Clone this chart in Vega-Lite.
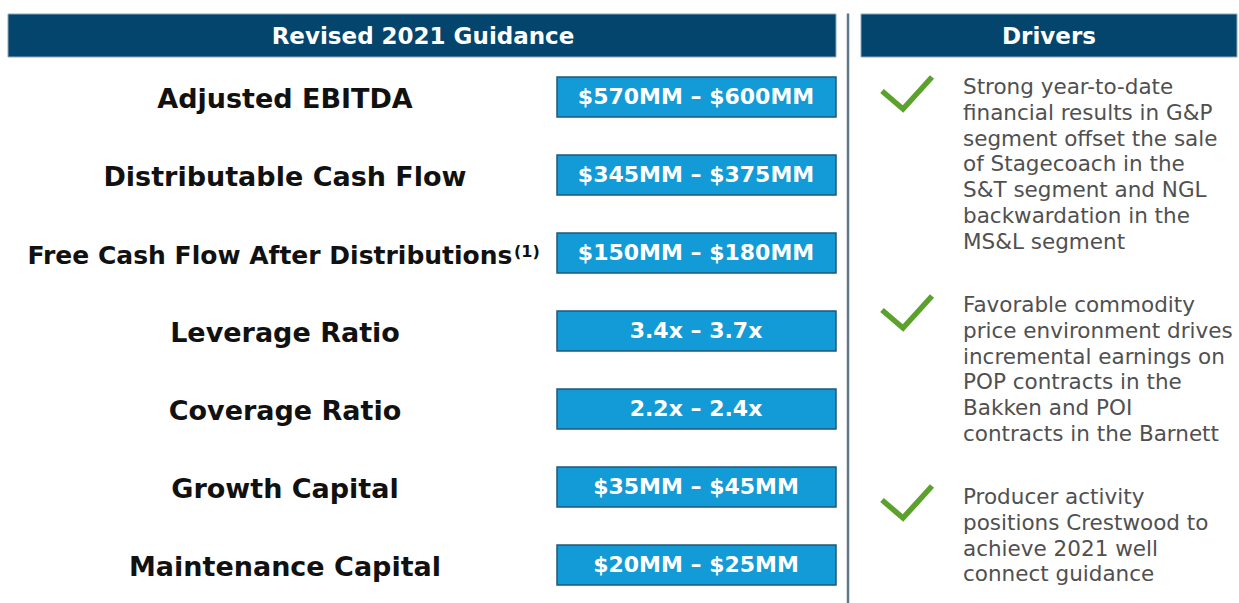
{
  "$schema": "https://vega.github.io/schema/vega-lite/v6.json",
  "width": 1239,
  "height": 603,
  "autosize": {"type": "none"},
  "padding": 0,
  "background": "white",
  "config": {"view": {"stroke": null}, "axis": {"disable": true}, "font": "DejaVu Sans", "scale": {"continuousPadding": 0}},
  "datasets": {
    "guidance": [
      {"order": 1, "metric": "Adjusted EBITDA", "note": "", "range": "$570MM – $600MM"},
      {"order": 2, "metric": "Distributable Cash Flow", "note": "", "range": "$345MM – $375MM"},
      {"order": 3, "metric": "Free Cash Flow After Distributions", "note": "(1)", "range": "$150MM – $180MM"},
      {"order": 4, "metric": "Leverage Ratio", "note": "", "range": "3.4x – 3.7x"},
      {"order": 5, "metric": "Coverage Ratio", "note": "", "range": "2.2x – 2.4x"},
      {"order": 6, "metric": "Growth Capital", "note": "", "range": "$35MM – $45MM"},
      {"order": 7, "metric": "Maintenance Capital", "note": "", "range": "$20MM – $25MM"}
    ],
    "headers": [
      {"id": 1, "title": "Revised 2021 Guidance"},
      {"id": 2, "title": "Drivers"}
    ],
    "drivers": [
      {"id": 1, "text": "Strong year-to-date\nfinancial results in G&P\nsegment offset the sale\nof Stagecoach in the\nS&T segment and NGL\nbackwardation in the\nMS&L segment"},
      {"id": 2, "text": "Favorable commodity\nprice environment drives\nincremental earnings on\nPOP contracts in the\nBakken and POI\ncontracts in the Barnett"},
      {"id": 3, "text": "Producer activity\npositions Crestwood to\nachieve 2021 well\nconnect guidance"}
    ]
  },
  "layer": [
    {
      "data": {"name": "headers"},
      "transform": [{"filter": "datum.id == 1"}],
      "layer": [
        {
          "mark": {"type": "bar", "orient": "horizontal", "height": 43, "color": "#03456d", "stroke": "#8fa9bd", "strokeWidth": 1},
          "encoding": {
            "x": {"datum": 8, "type": "quantitative", "scale": {"domain": [0, 1239], "nice": false, "zero": false, "padding": 0}},
            "x2": {"datum": 836},
            "y": {"datum": 0.2115, "type": "quantitative", "scale": {"domain": [-0.2436, 7.4872], "reverse": true, "nice": false, "zero": false, "padding": 0}}
          }
        },
        {
          "mark": {"type": "text", "align": "center", "baseline": "middle", "fontSize": 23, "fontWeight": "bold", "color": "white"},
          "encoding": {
            "x": {"datum": 423, "type": "quantitative", "scale": {"domain": [0, 1239], "nice": false, "zero": false, "padding": 0}},
            "y": {"datum": 0.2308, "type": "quantitative", "scale": {"domain": [-0.2436, 7.4872], "reverse": true, "nice": false, "zero": false, "padding": 0}},
            "text": {"field": "title"}
          }
        }
      ]
    },
    {
      "data": {"name": "headers"},
      "transform": [{"filter": "datum.id == 2"}],
      "layer": [
        {
          "mark": {"type": "bar", "orient": "horizontal", "height": 43, "color": "#03456d", "stroke": "#8fa9bd", "strokeWidth": 1},
          "encoding": {
            "x": {"datum": 861, "type": "quantitative", "scale": {"domain": [0, 1239], "nice": false, "zero": false, "padding": 0}},
            "x2": {"datum": 1237},
            "y": {"datum": 0.2115, "type": "quantitative", "scale": {"domain": [-0.2436, 7.4872], "reverse": true, "nice": false, "zero": false, "padding": 0}}
          }
        },
        {
          "mark": {"type": "text", "align": "center", "baseline": "middle", "fontSize": 23, "fontWeight": "bold", "color": "white"},
          "encoding": {
            "x": {"datum": 1049, "type": "quantitative", "scale": {"domain": [0, 1239], "nice": false, "zero": false, "padding": 0}},
            "y": {"datum": 0.2308, "type": "quantitative", "scale": {"domain": [-0.2436, 7.4872], "reverse": true, "nice": false, "zero": false, "padding": 0}},
            "text": {"field": "title"}
          }
        }
      ]
    },
    {
      "data": {"name": "headers"},
      "transform": [{"filter": "datum.id == 1"}],
      "mark": {"type": "rule", "color": "#5f778c", "strokeWidth": 2.5},
      "encoding": {
        "x": {"datum": 848, "type": "quantitative", "scale": {"domain": [0, 1239], "nice": false, "zero": false, "padding": 0}},
        "y": {"datum": -0.07, "type": "quantitative", "scale": {"domain": [-0.2436, 7.4872], "reverse": true, "nice": false, "zero": false, "padding": 0}},
        "y2": {"datum": 7.4872}
      }
    },
    {
      "data": {"name": "guidance"},
      "layer": [
        {
          "transform": [{"filter": "datum.order != 3"}],
          "mark": {"type": "text", "align": "center", "baseline": "middle", "fontSize": 27, "fontWeight": "bold", "color": "#111111", "dy": 3},
          "encoding": {
            "x": {"datum": 285, "type": "quantitative", "scale": {"domain": [0, 1239], "nice": false, "zero": false, "padding": 0}},
            "y": {"field": "order", "type": "quantitative", "scale": {"domain": [-0.2436, 7.4872], "reverse": true, "nice": false, "zero": false, "padding": 0}},
            "text": {"field": "metric"}
          }
        },
        {
          "transform": [{"filter": "datum.order == 3"}],
          "mark": {"type": "text", "align": "center", "baseline": "middle", "fontSize": 25, "fontWeight": "bold", "color": "#111111", "dy": 3},
          "encoding": {
            "x": {"datum": 270, "type": "quantitative", "scale": {"domain": [0, 1239], "nice": false, "zero": false, "padding": 0}},
            "y": {"field": "order", "type": "quantitative", "scale": {"domain": [-0.2436, 7.4872], "reverse": true, "nice": false, "zero": false, "padding": 0}},
            "text": {"field": "metric"}
          }
        },
        {
          "transform": [{"filter": "datum.order == 3"}],
          "mark": {"type": "text", "align": "left", "baseline": "middle", "fontSize": 16, "fontWeight": "bold", "color": "#111111", "dy": -1},
          "encoding": {
            "x": {"datum": 514, "type": "quantitative", "scale": {"domain": [0, 1239], "nice": false, "zero": false, "padding": 0}},
            "y": {"field": "order", "type": "quantitative", "scale": {"domain": [-0.2436, 7.4872], "reverse": true, "nice": false, "zero": false, "padding": 0}},
            "text": {"field": "note"}
          }
        },
        {
          "mark": {"type": "bar", "orient": "horizontal", "height": 40, "color": "#129bd7", "stroke": "#1f5878", "strokeWidth": 1.5},
          "encoding": {
            "x": {"datum": 557, "type": "quantitative", "scale": {"domain": [0, 1239], "nice": false, "zero": false, "padding": 0}},
            "x2": {"datum": 836},
            "y": {"field": "order", "type": "quantitative", "scale": {"domain": [-0.2436, 7.4872], "reverse": true, "nice": false, "zero": false, "padding": 0}}
          }
        },
        {
          "mark": {"type": "text", "align": "center", "baseline": "middle", "fontSize": 22, "fontWeight": "bold", "color": "white"},
          "encoding": {
            "x": {"datum": 696, "type": "quantitative", "scale": {"domain": [0, 1239], "nice": false, "zero": false, "padding": 0}},
            "y": {"field": "order", "type": "quantitative", "scale": {"domain": [-0.2436, 7.4872], "reverse": true, "nice": false, "zero": false, "padding": 0}},
            "text": {"field": "range"}
          }
        }
      ]
    },
    {
      "data": {"name": "drivers"},
      "transform": [{"filter": "datum.id == 1"}],
      "layer": [
        {
          "mark": {"type": "point", "shape": "M-1,-0.08L-0.16,0.64L1,-0.64", "size": 2500, "filled": false, "stroke": "#5ba12c", "strokeWidth": 5.5, "opacity": 1},
          "encoding": {
            "x": {"datum": 907, "type": "quantitative", "scale": {"domain": [0, 1239], "nice": false, "zero": false, "padding": 0}},
            "y": {"datum": 0.9487, "type": "quantitative", "scale": {"domain": [-0.2436, 7.4872], "reverse": true, "nice": false, "zero": false, "padding": 0}}
          }
        },
        {
          "mark": {"type": "text", "align": "left", "baseline": "top", "fontSize": 21.5, "lineHeight": 25.8, "lineBreak": "\n", "color": "#505050"},
          "encoding": {
            "x": {"datum": 963, "type": "quantitative", "scale": {"domain": [0, 1239], "nice": false, "zero": false, "padding": 0}},
            "y": {"datum": 0.743, "type": "quantitative", "scale": {"domain": [-0.2436, 7.4872], "reverse": true, "nice": false, "zero": false, "padding": 0}},
            "text": {"field": "text"}
          }
        }
      ]
    },
    {
      "data": {"name": "drivers"},
      "transform": [{"filter": "datum.id == 2"}],
      "layer": [
        {
          "mark": {"type": "point", "shape": "M-1,-0.08L-0.16,0.64L1,-0.64", "size": 2500, "filled": false, "stroke": "#5ba12c", "strokeWidth": 5.5, "opacity": 1},
          "encoding": {
            "x": {"datum": 907, "type": "quantitative", "scale": {"domain": [0, 1239], "nice": false, "zero": false, "padding": 0}},
            "y": {"datum": 3.7564, "type": "quantitative", "scale": {"domain": [-0.2436, 7.4872], "reverse": true, "nice": false, "zero": false, "padding": 0}}
          }
        },
        {
          "mark": {"type": "text", "align": "left", "baseline": "top", "fontSize": 21.5, "lineHeight": 25.8, "lineBreak": "\n", "color": "#505050"},
          "encoding": {
            "x": {"datum": 963, "type": "quantitative", "scale": {"domain": [0, 1239], "nice": false, "zero": false, "padding": 0}},
            "y": {"datum": 3.538, "type": "quantitative", "scale": {"domain": [-0.2436, 7.4872], "reverse": true, "nice": false, "zero": false, "padding": 0}},
            "text": {"field": "text"}
          }
        }
      ]
    },
    {
      "data": {"name": "drivers"},
      "transform": [{"filter": "datum.id == 3"}],
      "layer": [
        {
          "mark": {"type": "point", "shape": "M-1,-0.08L-0.16,0.64L1,-0.64", "size": 2500, "filled": false, "stroke": "#5ba12c", "strokeWidth": 5.5, "opacity": 1},
          "encoding": {
            "x": {"datum": 907, "type": "quantitative", "scale": {"domain": [0, 1239], "nice": false, "zero": false, "padding": 0}},
            "y": {"datum": 6.1923, "type": "quantitative", "scale": {"domain": [-0.2436, 7.4872], "reverse": true, "nice": false, "zero": false, "padding": 0}}
          }
        },
        {
          "mark": {"type": "text", "align": "left", "baseline": "top", "fontSize": 21.5, "lineHeight": 25.8, "lineBreak": "\n", "color": "#505050"},
          "encoding": {
            "x": {"datum": 963, "type": "quantitative", "scale": {"domain": [0, 1239], "nice": false, "zero": false, "padding": 0}},
            "y": {"datum": 6.0, "type": "quantitative", "scale": {"domain": [-0.2436, 7.4872], "reverse": true, "nice": false, "zero": false, "padding": 0}},
            "text": {"field": "text"}
          }
        }
      ]
    }
  ]
}
